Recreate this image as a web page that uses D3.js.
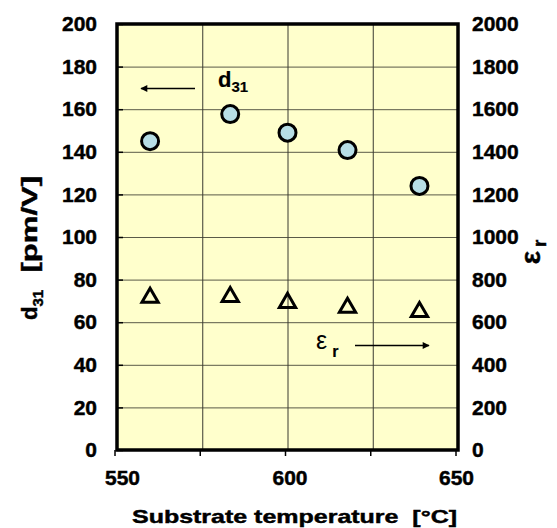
<!DOCTYPE html>
<html><head><meta charset="utf-8">
<script src="https://cdn.jsdelivr.net/npm/d3@7"></script>
<style>body{margin:0;background:#fff}svg{display:block}text{font-family:"Liberation Sans",Arial,sans-serif !important}.b{font-weight:700;stroke:#000;stroke-width:0.45px}</style>
</head><body><svg id="c" width="557" height="528"></svg>
<script>
const temps = [559.7, 583.2, 600, 617.6, 638.7];
const d31 = [145, 157.7, 149, 140.8, 124];
const epsR = [720, 724, 696, 673, 653];
const xTicks = [550, 600, 650];
const xGrid = [575, 600, 625];
const yTicks = [0,20,40,60,80,100,120,140,160,180,200];
const y2Ticks = [0,200,400,600,800,1000,1200,1400,1600,1800,2000];

const svg = d3.select("#c");
const L=117, R=458, T=24, B=450;
const x = d3.scaleLinear().domain([550,650]).range([L,R]);
const y = d3.scaleLinear().domain([0,200]).range([B,T]);
const y2 = d3.scaleLinear().domain([0,2000]).range([B,T]);

svg.append("rect").attr("x",L).attr("y",T).attr("width",R-L).attr("height",B-T).attr("fill","#FFFFCC");

// grid
svg.append("g").selectAll("line").data(yTicks.slice(1,-1)).join("line")
  .attr("x1",L).attr("x2",R).attr("y1",d=>y(d)+0.5).attr("y2",d=>y(d)+0.5)
  .attr("stroke","#5a5a48").attr("stroke-width",1);
svg.append("g").selectAll("line").data(xGrid).join("line")
  .attr("y1",T).attr("y2",B).attr("x1",d=>x(d)+0.5).attr("x2",d=>x(d)+0.5)
  .attr("stroke","#3a3a30").attr("stroke-width",1);

const fmt = d3.format("d");
// left axis
const gl = svg.append("g").attr("transform",`translate(${L},0)`)
  .call(d3.axisLeft(y).tickValues(yTicks).tickFormat(fmt).tickSize(0).tickPadding(20));
gl.select(".domain").remove();
gl.selectAll("text").attr("class","b").style("font-size","21px").attr("fill","#000");
svg.append("g").selectAll("line").data(yTicks).join("line")
  .attr("x1",L).attr("x2",L+6).attr("y1",d=>y(d)+0.5).attr("y2",d=>y(d)+0.5).attr("stroke","#000").attr("stroke-width",1.5);

// right axis
const gr = svg.append("g").attr("transform",`translate(${R},0)`)
  .call(d3.axisRight(y2).tickValues(y2Ticks).tickFormat(fmt).tickSize(0).tickPadding(14));
gr.select(".domain").remove();
gr.selectAll("text").attr("class","b").style("font-size","21px").attr("fill","#000");

// bottom axis
const gb = svg.append("g").attr("transform",`translate(0,${B})`)
  .call(d3.axisBottom(x).tickValues(xTicks).tickFormat(fmt).tickSize(0).tickPadding(20));
gb.select(".domain").remove();
gb.selectAll("text").attr("class","b").style("font-size","21px").attr("fill","#000")
  .attr("dx",d=>d===550?5:(d===650?-2:2));
svg.append("g").selectAll("line").data([550,575,600,625,650]).join("line")
  .attr("x1",d=>x(d)-2).attr("x2",d=>x(d)-2).attr("y1",B).attr("y2",B+6).attr("stroke","#000").attr("stroke-width",1.5);

// frame
svg.append("rect").attr("x",L).attr("y",T).attr("width",R-L).attr("height",B-T)
  .attr("fill","none").attr("stroke","#000").attr("stroke-width",3.5);

// data: circles
svg.append("g").selectAll("circle").data(temps).join("circle")
  .attr("cx",d=>x(d)).attr("cy",(d,i)=>y(d31[i])).attr("r",8.5)
  .attr("fill","#B7DEE6").attr("stroke","#000").attr("stroke-width",3);
// triangles
const tri = d3.symbol().type(d3.symbolTriangle).size(115);
svg.append("g").selectAll("path").data(temps).join("path")
  .attr("d",tri).attr("transform",(d,i)=>`translate(${x(d)},${y2(epsR[i])+1})`)
  .attr("fill","none").attr("stroke","#000").attr("stroke-width",3).attr("stroke-linejoin","miter");

// annotations
const defs = svg.append("defs");
defs.append("marker").attr("id","ah").attr("viewBox","0 0 10 10").attr("refX",9).attr("refY",5)
  .attr("markerWidth",10).attr("markerHeight",7).attr("markerUnits","userSpaceOnUse").attr("orient","auto")
  .append("path").attr("d","M0,0L10,5L0,10z").attr("fill","#000");
svg.append("line").attr("x1",195).attr("x2",141).attr("y1",88.5).attr("y2",88.5)
  .attr("stroke","#000").attr("stroke-width",1.5).attr("marker-end","url(#ah)");
const t1 = svg.append("text").attr("x",218).attr("y",87).style("font-size","22px").attr("class","b").style("stroke-width","0.2px");
t1.append("tspan").text("d");
t1.append("tspan").attr("dy",5).style("font-size","15px").text("31");

svg.append("line").attr("x1",355).attr("x2",429).attr("y1",345.5).attr("y2",345.5)
  .attr("stroke","#000").attr("stroke-width",1.5).attr("marker-end","url(#ah)");
const t2 = svg.append("text").attr("x",316).attr("y",349).style("font-size","25px");
t2.append("tspan").text("ε");
t2.append("tspan").attr("dx",5).attr("dy",8).style("font-size","16px").attr("class","b").style("stroke-width","0.2px").text("r");

// axis titles
svg.append("text").attr("x",132).attr("y",523).attr("class","b")
  .style("font-size","19px").attr("xml:space","preserve")
  .attr("textLength",325).attr("lengthAdjust","spacingAndGlyphs")
  .text("Substrate temperature  [°C]");
const yt = svg.append("text").attr("transform","translate(37,320) rotate(-90)")
  .style("font-size","22px").attr("class","b").attr("xml:space","preserve");
yt.append("tspan").text("d");
yt.append("tspan").attr("dy",6).style("font-size","15px").text("31");
yt.append("tspan").attr("dy",-6).attr("textLength",114).attr("lengthAdjust","spacingAndGlyphs").text("  [pm/V]");
const y2t = svg.append("text").attr("transform","translate(540,252) rotate(-90)").attr("text-anchor","middle")
  .style("font-size","28px").attr("class","b");
y2t.append("tspan").text("ε");
y2t.append("tspan").attr("dx",4).attr("dy",6).style("font-size","19px").text("r");
</script></body></html>
